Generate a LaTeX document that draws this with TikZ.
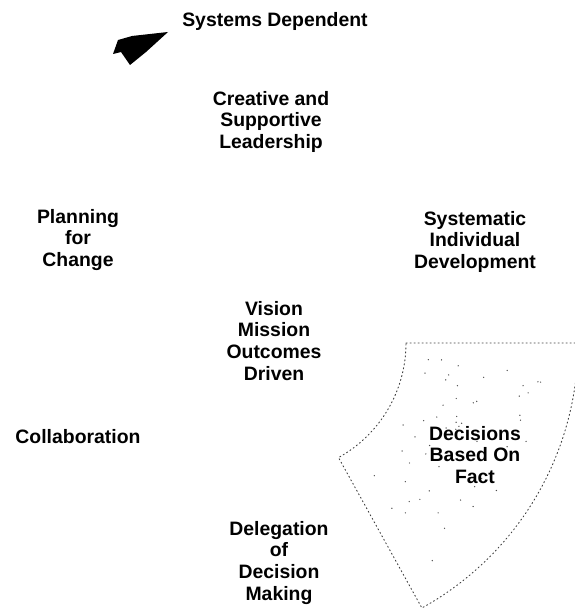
\documentclass[tikz,border=0pt]{standalone}
\usepackage{fontspec}
\setmainfont{Liberation Sans}
\begin{document}
\begin{tikzpicture}[x=1pt,y=-1pt,
  itemtext/.style={align=center, anchor=north, inner sep=0pt,
    font=\fontsize{19.4}{21.6}\selectfont\bfseries},
  sectoredge/.style={draw=black!75, line width=0.9pt,
    dash pattern=on 1.2pt off 2.8pt, line cap=round},
  stipple/.style={fill=black!70}]
\useasboundingbox (0,0) rectangle (574,610);

% centre of the wheel
\coordinate (hub) at (275,343);

% outline of the "Decisions Based On Fact" segment
\draw[sectoredge] ([shift={(0:131)}]hub) -- ([shift={(0:303)}]hub)
  arc[start angle=0, end angle=61, radius=303]
  -- ([shift={(61:131)}]hub)
  arc[start angle=61, end angle=0, radius=131];

% light stipple inside the segment
\pgfmathsetseed{42}
\foreach \k in {1,...,55}{
  \pgfmathsetmacro{\ang}{5+rnd*50}
  \pgfmathsetmacro{\rad}{150+rnd*120}
  \fill[stipple] ([shift={(\ang:\rad)}]hub) circle (0.7pt);
}

% rotation arrowhead
\coordinate (tip) at (168,32);
\fill (tip) -- (132,36) -- (118,40) -- (113,54) -- (121,52) -- (130,65)
  -- (146,52) -- cycle;

% labels
\node[itemtext] (sysdep) at (275,12)  {Systems Dependent};
\node[itemtext] (lead)   at (271,91)  {Creative and\\Supportive\\Leadership};
\node[itemtext] (plan)   at (78,209)  {Planning\\for\\Change};
\node[itemtext] (indiv)  at (475,211) {Systematic\\Individual\\Development};
\node[itemtext] (vision) at (274,301) {Vision\\Mission\\Outcomes\\Driven};
\node[itemtext] (collab) at (78,429)  {Collaboration};
\node[itemtext] (fact)   at (475,426) {Decisions\\Based On\\Fact};
\node[itemtext] (deleg)  at (279,521) {Delegation\\of\\Decision\\Making};
\end{tikzpicture}
\end{document}
